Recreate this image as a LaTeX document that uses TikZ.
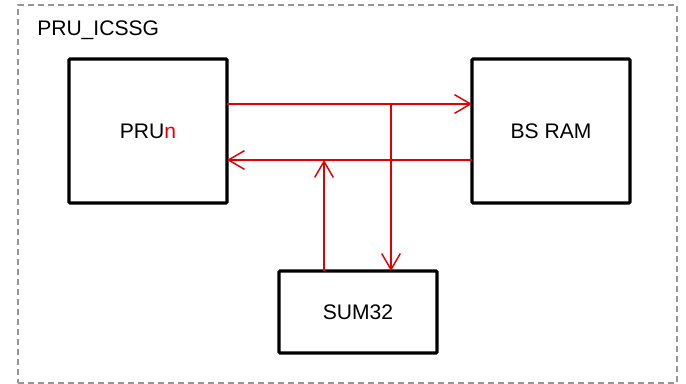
\documentclass[tikz,border=0pt]{standalone}
\usepackage{fontspec}
\setmainfont{Liberation Sans}
\usetikzlibrary{arrows.meta}
\definecolor{sigred}{RGB}{228,0,0}
\definecolor{dashgray}{RGB}{150,150,150}
\begin{document}
\begin{tikzpicture}[x=0.75pt,y=-0.75pt,
  blk/.style={draw=black,line width=2.3pt,rounded corners=0.8pt,inner sep=0pt,outer sep=0pt,
    font=\fontsize{15.8}{18}\selectfont,text=black},
  sig/.style={draw=sigred,line width=1.1pt,-{Straight Barb[length=12pt,width=14pt,line width=1.1pt]}},
  wire/.style={draw=sigred,line width=1.1pt}]
\useasboundingbox (0,0) rectangle (686,384);
\node[draw=dashgray,line width=1.1pt,dash pattern=on 4.5pt off 3pt,minimum width=494.25pt,minimum height=283.5pt,inner sep=0pt] (icssg) at (347.5,194) {};
\node[anchor=base west,inner sep=0pt,font=\fontsize{15.8}{18}\selectfont] (lbl) at (37,36) {PRU\_ICSSG};
\node[blk,minimum width=118.5pt,minimum height=108pt] (pru) at (148,131) {PRU\textcolor{sigred}{n}};
\node[blk,minimum width=118.5pt,minimum height=108pt] (bs) at (551,131) {BS RAM};
\node[blk,minimum width=118.5pt,minimum height=61.5pt] (sum) at (358,312) {SUM32};
\coordinate (j1) at (391,104);
\coordinate (j2) at (324,160);
\draw[sig] (pru.east |- j1) -- (bs.west |- j1);
\draw[sig] (bs.west |- j2) -- (pru.east |- j2);
\draw[sig] (j1) -- (j1 |- sum.north);
\draw[sig] (j2 |- sum.north) -- (j2);
\end{tikzpicture}
\end{document}
